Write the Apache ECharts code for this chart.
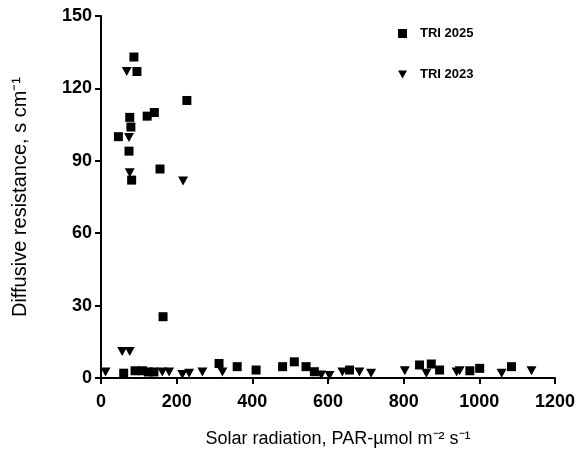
<!DOCTYPE html>
<html><head><meta charset="utf-8">
<script src="https://cdn.jsdelivr.net/npm/echarts@6/dist/echarts.min.js"></script>
<style>html,body{margin:0;padding:0;background:#fff}#c{width:578px;height:455px}</style>
</head><body><div id="c"></div>
<script>
const xTicks = [0, 200, 400, 600, 800, 1000, 1200];
const yTicks = [0, 30, 60, 90, 120, 150];
const seriesNames = ['TRI 2025', 'TRI 2023'];
const tri2025 = [
  [87,133],[95,127],[227,115],[122,108.5],[141,110],[76,108],[79,104],[46,100],[74,94],[156,86.6],[81,82],[164,25.4],
  [60,2],[90,3],[110,3],[125,2.5],[140,2.5],[312,6],[360,4.7],[410,3.3],[480,4.7],[511,6.7],[542,4.7],[564,2.6],
  [657,3.3],[842,5.4],[873,5.8],[895,3.3],[975,3],[1001,4],[1085,4.7]
];
const tri2023 = [
  [68,127],[74,99.7],[76,85],[217,81.6],[56,11],[76,11],[12,2.5],[162,2.5],[180,2.5],[215,1.5],[233,2],[268,2.5],
  [321,2.5],[582,1.2],[604,1],[638,2.5],[683,2.5],[714,2],[803,3],[860,2],[940,2.5],[948,3],[1059,2],[1138,3]
];
const invTri = 'path://M0,0 L10,0 L5,9 Z';
const chart = echarts.init(document.getElementById('c'));
const font = 'Liberation Sans, Arial, sans-serif';
chart.setOption({
  animation: false,
  backgroundColor: '#fff',
  grid: {left: 101, right: 23, top: 16, bottom: 77},
  legend: {
    orient: 'vertical', left: 393, top: 22, itemGap: 28, itemWidth: 9, itemHeight: 9,
    textStyle: {fontFamily: font, fontWeight: 'bold', fontSize: 13, color: '#000', padding: [0, 0, 0, 8]},
    data: [{name: seriesNames[0], icon: 'rect'}, {name: seriesNames[1], icon: invTri}]
  },
  xAxis: {
    type: 'value', min: xTicks[0], max: xTicks[xTicks.length-1], interval: 200,
    name: 'Solar radiation, PAR-\u00B5mol m\u207B\u00B2 s\u207B\u00B9', nameLocation: 'middle', nameGap: 52,
    nameTextStyle: {fontFamily: font, fontSize: 18, color: '#000', padding: [0, 0, 0, 20]},
    axisLine: {lineStyle: {color: '#000', width: 2}},
    axisTick: {lineStyle: {color: '#000', width: 2}, length: 6},
    axisLabel: {fontFamily: font, fontWeight: 'bold', fontSize: 18, color: '#000', margin: 15,
      formatter: v => String(v)},
    splitLine: {show: false}
  },
  yAxis: {
    type: 'value', min: yTicks[0], max: yTicks[yTicks.length-1], interval: 30,
    name: 'Diffusive resistance, s cm\u207B\u00B9', nameLocation: 'middle', nameGap: 71,
    nameTextStyle: {fontFamily: font, fontSize: 20, color: '#000'},
    axisLine: {lineStyle: {color: '#000', width: 2}},
    axisTick: {lineStyle: {color: '#000', width: 2}, length: 6},
    axisLabel: {fontFamily: font, fontWeight: 'bold', fontSize: 18, color: '#000', margin: 9},
    splitLine: {show: false}
  },
  series: [
    {name: seriesNames[0], type: 'scatter', symbol: 'rect', symbolSize: 9, itemStyle: {color: '#000', opacity: 1}, data: tri2025},
    {name: seriesNames[1], type: 'scatter', symbol: invTri, symbolSize: [10, 9], itemStyle: {color: '#000', opacity: 1}, data: tri2023}
  ]
});
</script></body></html>
